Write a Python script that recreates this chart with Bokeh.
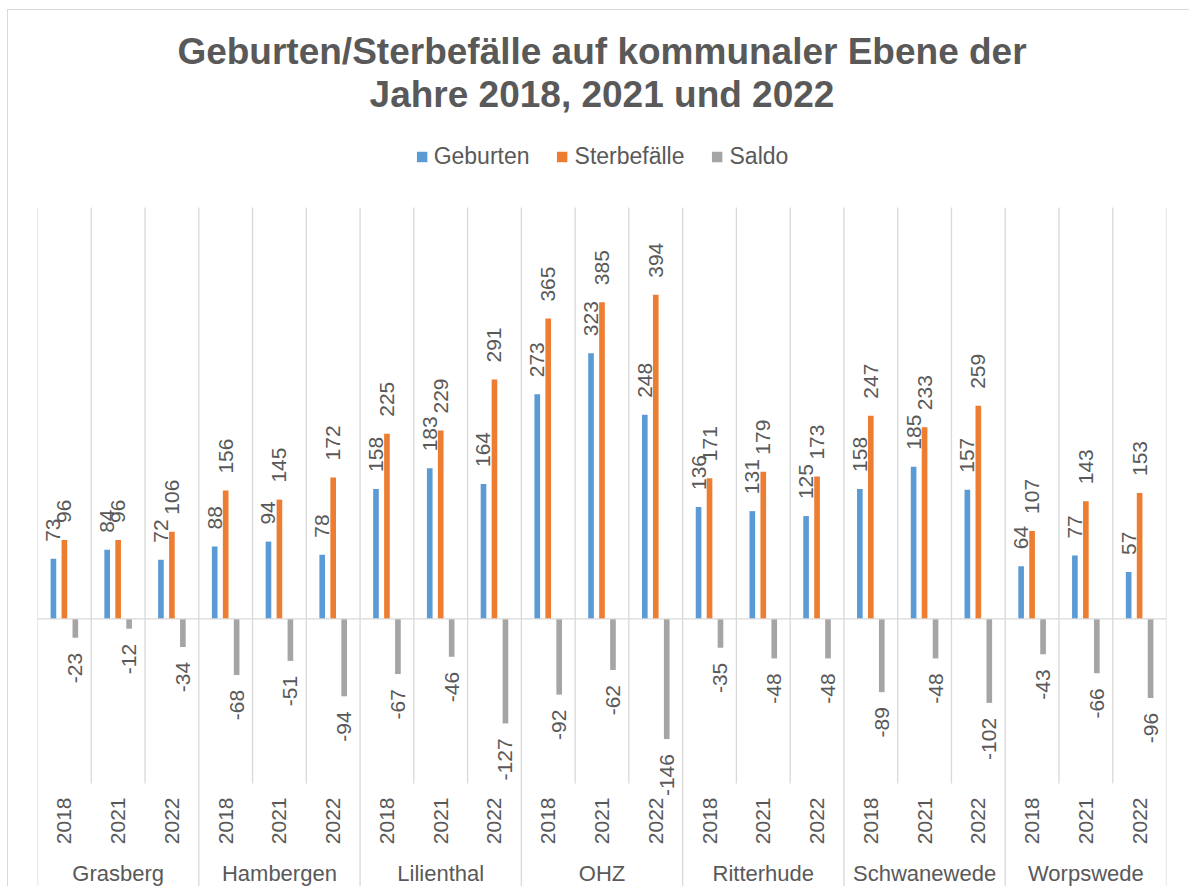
import math
from bokeh.plotting import figure
from bokeh.models import (FactorRange, Range1d, ColumnDataSource, Legend, LegendItem, Span,
                          LabelSet, Title)
from bokeh.transform import dodge
from bokeh.core.properties import value
from bokeh.embed import file_html
from bokeh.resources import INLINE

# ---------------- data ----------------
gemeinden = ["Grasberg", "Hambergen", "Lilienthal", "OHZ", "Ritterhude", "Schwanewede", "Worpswede"]
jahre = ["2018", "2021", "2022"]
geburten = [73, 84, 72, 88, 94, 78, 158, 183, 164, 273, 323, 248, 136, 131, 125, 158, 185, 157, 64, 77, 57]
sterbefaelle = [96, 96, 106, 156, 145, 172, 225, 229, 291, 365, 385, 394, 171, 179, 173, 247, 233, 259, 107, 143, 153]
saldo = [-23, -12, -34, -68, -51, -94, -67, -46, -127, -92, -62, -146, -35, -48, -48, -89, -48, -102, -43, -66, -96]
serien = ["Geburten", "Sterbefälle", "Saldo"]
farben = ["#5B9BD5", "#ED7D31", "#A5A5A5"]
titel_1 = "Geburten/Sterbefälle auf kommunaler Ebene der"
titel_2 = "Jahre 2018, 2021 und 2022"

# ---------------- layout constants ----------------
PAGE_X, PAGE_Y = 8, 10            # chart box offset on the page
Y_MIN, Y_MAX = -200, 500          # value range covered by the plot area grid
TOP_BORDER = 104                  # px above the frame (titles)
PX_PER_UNIT = 576 / 700
Y_TOP = Y_MAX + (207 - PAGE_Y - TOP_BORDER) / PX_PER_UNIT   # room for the legend
Y_BOT = Y_MIN - 103 / PX_PER_UNIT                           # room for the category labels

FONT = "Liberation Sans"
TXT = "#595959"
GRID = "#d9d9d9"

factors = [(g, j) for g in gemeinden for j in jahre]

src = ColumnDataSource(dict(
    x=factors,
    geb=geburten, ster=sterbefaelle, sal=saldo,
    geb_l=[str(v) for v in geburten],
    ster_l=[str(v) for v in sterbefaelle],
    sal_l=[str(v) for v in saldo],
))

x_range = FactorRange(*factors, factor_padding=0.0, group_padding=0.0, range_padding=0.0)

p = figure(x_range=x_range, y_range=Range1d(Y_BOT, Y_TOP),
           width=1189 - PAGE_X, height=886 - PAGE_Y, output_backend="svg", toolbar_location=None,
           min_border_left=29, min_border_right=23, min_border_top=TOP_BORDER, min_border_bottom=0,
           background_fill_color="white", border_fill_color="white")

p.outline_line_color = None
p.xgrid.visible = False
p.ygrid.visible = False
p.yaxis.visible = False

# vertical grid lines: inside groups only across the plot area,
# group boundaries down through the category labels
inner = ColumnDataSource(dict(x=[f for f in factors if f[1] != jahre[0]]))
outer = ColumnDataSource(dict(x=[f for f in factors if f[1] == jahre[0]]))
last = ColumnDataSource(dict(x=[factors[-1]]))
p.segment(x0=dodge("x", -0.5, range=x_range), x1=dodge("x", -0.5, range=x_range),
          y0=Y_MIN, y1=Y_MAX, source=inner, line_color=GRID, line_width=1.3)
p.segment(x0=dodge("x", -0.5, range=x_range), x1=dodge("x", -0.5, range=x_range),
          y0=Y_BOT, y1=Y_MAX, source=outer, line_color=GRID, line_width=1.3)
p.segment(x0=dodge("x", 0.5, range=x_range), x1=dodge("x", 0.5, range=x_range),
          y0=Y_BOT, y1=Y_MAX, source=last, line_color=GRID, line_width=1.3)

p.add_layout(Span(location=0, dimension="width", line_color=GRID, line_width=1.3))

OFF = 0.204
W = 0.105
r1 = p.vbar(x=dodge("x", -OFF, range=x_range), top="geb", bottom=0, width=W, source=src,
            fill_color=farben[0], line_color=None)
r2 = p.vbar(x=dodge("x", 0.0, range=x_range), top="ster", bottom=0, width=W, source=src,
            fill_color=farben[1], line_color=None)
r3 = p.vbar(x=dodge("x", OFF, range=x_range), top="sal", bottom=0, width=W, source=src,
            fill_color=farben[2], line_color=None)

lab = dict(angle=math.pi / 2, text_baseline="middle", text_font=value(FONT),
           text_font_size="21px", text_color=TXT, source=src)
p.add_layout(LabelSet(x=dodge("x", -OFF, range=x_range), y="geb", text="geb_l",
                      text_align="left", y_offset=17, **lab))
p.add_layout(LabelSet(x=dodge("x", 0.0, range=x_range), y="ster", text="ster_l",
                      text_align="left", y_offset=17, **lab))
p.add_layout(LabelSet(x=dodge("x", OFF, range=x_range), y="sal", text="sal_l",
                      text_align="right", y_offset=-15, **lab))

ax = p.xaxis[0]
ax.fixed_location = Y_MIN
ax.axis_line_color = None
ax.major_tick_line_color = None
ax.major_tick_out = 0
ax.major_tick_in = 0
ax.minor_tick_line_color = None
ax.major_label_orientation = math.pi / 2
ax.major_label_standoff = 14
ax.major_label_text_font = FONT
ax.major_label_text_font_size = "21px"
ax.major_label_text_color = TXT
ax.group_text_font = FONT
ax.group_text_font_size = "22px"
ax.group_text_color = TXT
ax.group_text_font_style = "normal"
ax.separator_line_color = None

tstyle = dict(align="center", text_font=FONT, text_font_size="37px",
              text_font_style="bold", text_color=TXT, standoff=0)
# the figure's own title sits outermost, the added one next to the plot area
p.title.text = titel_1
for k, v in tstyle.items():
    setattr(p.title, k, v)
p.add_layout(Title(text=titel_2, **tstyle), "above")

legend = Legend(items=[LegendItem(label=serien[0], renderers=[r1]),
                       LegendItem(label=serien[1], renderers=[r2]),
                       LegendItem(label=serien[2], renderers=[r3])],
                orientation="horizontal", location="top_center",
                label_text_font=FONT, label_text_font_size="23px", label_text_color=TXT,
                glyph_width=13, glyph_height=13, label_standoff=6, spacing=26,
                border_line_color=None, background_fill_alpha=0, padding=0, margin=29)
p.add_layout(legend, "center")

p.styles = {"margin-left": f"{PAGE_X}px", "margin-top": f"{PAGE_Y}px",
            "outline": "1.5px solid #d9d9d9"}

open("out.html", "w").write(file_html(p, INLINE, title="Geburten/Sterbefälle"))
